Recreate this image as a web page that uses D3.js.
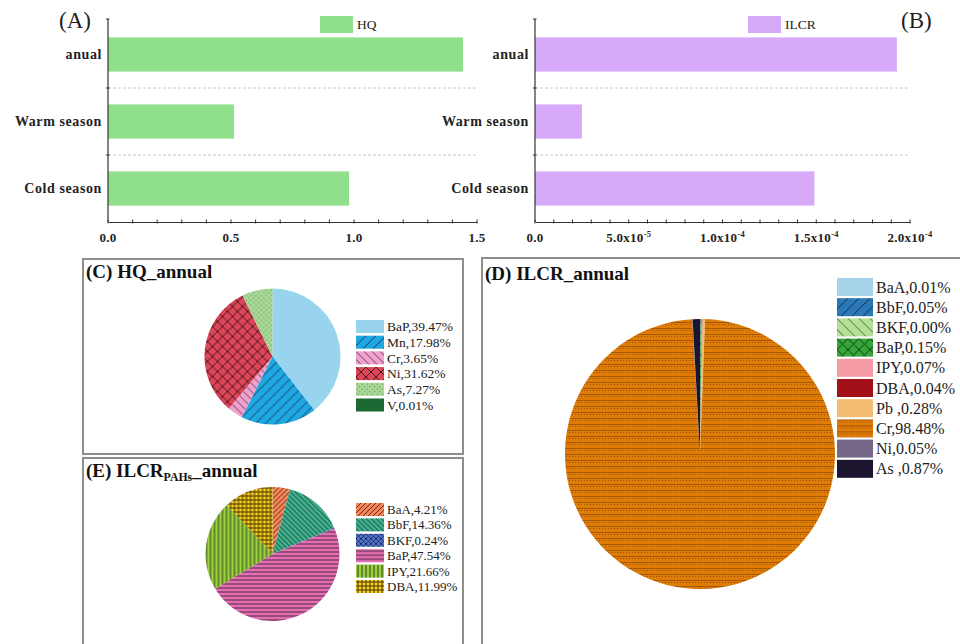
<!DOCTYPE html>
<html>
<head>
<meta charset="utf-8">
<script src="https://cdn.jsdelivr.net/npm/d3@7"></script>
<style>
  html, body { margin: 0; padding: 0; background: #fff; }
  svg { display: block; font-family: "Liberation Serif", "Times New Roman", serif; }
</style>
</head>
<body>
<svg id="chart" width="960" height="644"></svg>
<script>
// ---- data ----
const barCategories = ["anual", "Warm season", "Cold season"];
const hqValues = [1.443, 0.512, 0.98];
const ilcrValues = [1.93e-4, 2.5e-5, 1.49e-4];
const hqTicks = [0, 0.5, 1.0, 1.5];
const ilcrTicks = [0, 5e-5, 1e-4, 1.5e-4, 2e-4];

const hqNames = ["BaP", "Mn", "Cr", "Ni", "As", "V"];
const hqShares = [39.47, 17.98, 3.65, 31.62, 7.27, 0.01];

const pahNames = ["BaA", "BbF", "BKF", "BaP", "IPY", "DBA"];
const pahShares = [4.21, 14.36, 0.24, 47.54, 21.66, 11.99];

const ilcrNames = ["BaA", "BbF", "BKF", "BaP", "IPY", "DBA", "Pb ", "Cr", "Ni", "As "];
const ilcrShares = [0.01, 0.05, 0.00, 0.15, 0.07, 0.04, 0.28, 98.48, 0.05, 0.87];

// ---- fills ----
const svg = d3.select("#chart");
const defs = svg.append("defs");

function pattern(id, base, type, ink, size, width) {
  const s = size || 6, w = width || 1;
  const p = defs.append("pattern").attr("id", id)
    .attr("patternUnits", "userSpaceOnUse").attr("width", s).attr("height", s);
  p.append("rect").attr("width", s).attr("height", s).attr("fill", base);
  const line = (x1, y1, x2, y2) => p.append("line")
    .attr("x1", x1).attr("y1", y1).attr("x2", x2).attr("y2", y2)
    .attr("stroke", ink).attr("stroke-width", w);
  if (type === "fwd") { line(0, s, s, 0); line(-1, 1, 1, -1); line(s - 1, s + 1, s + 1, s - 1); }
  if (type === "back") { line(0, 0, s, s); line(-1, s - 1, 1, s + 1); line(s - 1, -1, s + 1, 1); }
  if (type === "cross") { line(0, s, s, 0); line(0, 0, s, s); }
  if (type === "h") { line(0, s / 2, s, s / 2); }
  if (type === "v") { line(s / 2, 0, s / 2, s); }
  if (type === "grid") { line(0, s / 2, s, s / 2); line(s / 2, 0, s / 2, s); }
  if (type === "dots") {
    p.append("circle").attr("cx", s / 4).attr("cy", s / 4).attr("r", w).attr("fill", ink);
    p.append("circle").attr("cx", 3 * s / 4).attr("cy", 3 * s / 4).attr("r", w).attr("fill", ink);
  }
  if (type === "brick") {
    p.append("rect").attr("x", 0).attr("y", 0).attr("width", s).attr("height", 1).attr("fill", ink).attr("opacity", 0.5);
    p.append("rect").attr("x", 1).attr("y", 2).attr("width", 1).attr("height", 1).attr("fill", ink).attr("opacity", 0.6);
    p.append("rect").attr("x", 4).attr("y", 2).attr("width", 1).attr("height", 1).attr("fill", ink).attr("opacity", 0.6);
  }
  return `url(#${id})`;
}

const hqFills = [
  "#98d4ee",
  pattern("c-mn", "#1ea7e0", "fwd", "#173a5c", 10, 1),
  pattern("c-cr", "#eda3cd", "back", "#7a3262", 8, 1),
  pattern("c-ni", "#dc4658", "cross", "#4a1418", 10, 1),
  pattern("c-as", "#abd99a", "dots", "#5f9a4e", 5, 0.7),
  pattern("c-v", "#1e6c35", "dots", "#0e4a20", 4, 0.6)
];
const pahFills = [
  pattern("e-baa", "#f4865c", "fwd", "#6e2a10", 5, 1),
  pattern("e-bbf", "#3eae8d", "back", "#1d4a3c", 5, 1),
  pattern("e-bkf", "#5577cf", "cross", "#1a2a60", 5, 1),
  pattern("e-bap", "#e56db4", "h", "#4a2a3c", 4, 1),
  pattern("e-ipy", "#9bd043", "v", "#2e3f12", 4, 1),
  pattern("e-dba", "#f6d225", "grid", "#4a3000", 4, 1)
];
const ilcrFills = [
  "#a7d4ea",
  pattern("d-bbf", "#2a78b6", "fwd", "#0e2e50", 11, 1),
  pattern("d-bkf", "#b4e097", "back", "#4a6e38", 11, 1),
  pattern("d-bap", "#35a63a", "cross", "#0e3e14", 11, 1),
  pattern("d-ipy", "#f8a1a9", "dots", "#e27784", 4, 0.6),
  "#a2111a",
  pattern("d-pb", "#f8c276", "dots", "#d2964a", 4, 0.6),
  pattern("d-cr", "#de7c07", "brick", "#6a3500", 6, 1),
  pattern("d-ni", "#6e6182", "dots", "#a898bb", 4, 0.6),
  "#1d1530"
];

// ---- bar panels ----
const yBand = d3.scaleBand().domain(barCategories).range([21, 222])
  .paddingInner(0.49).paddingOuter(0.245);

function barPanel(opt) {
  const g = svg.append("g");
  const x = d3.scaleLinear().domain([0, opt.max]).range([opt.x0, opt.x1]);
  const axisY = 222;

  // band separators
  const step = yBand.step();
  const bounds = barCategories.slice(1).map(c => yBand(c) - yBand.paddingInner() * step / 2);
  g.selectAll("line.sep").data(bounds).join("line")
    .attr("x1", opt.x0).attr("x2", opt.x1).attr("y1", d => d).attr("y2", d => d)
    .attr("stroke", "#c8c8c8").attr("stroke-width", 1).attr("stroke-dasharray", "3,2");

  // bars
  g.selectAll("rect.bar").data(opt.values).join("rect")
    .attr("x", x(0)).attr("y", (d, i) => yBand(barCategories[i]))
    .attr("width", d => x(d) - x(0)).attr("height", yBand.bandwidth())
    .attr("fill", opt.color);

  // x axis
  const minor = d3.range(0, opt.max + opt.minor / 2, opt.minor);
  const ax = g.append("g").attr("transform", `translate(0,${axisY})`)
    .call(d3.axisBottom(x).tickValues(minor).tickSize(0).tickFormat(""));
  ax.select(".domain").attr("stroke", "#333").attr("stroke-width", 1.2);
  g.selectAll("line.minor").data(minor).join("line")
    .attr("x1", d => x(d)).attr("x2", d => x(d)).attr("y1", axisY - 2.5).attr("y2", axisY + 1.5)
    .attr("stroke", "#333").attr("stroke-width", 1);

  const lab = g.selectAll("text.tick").data(opt.ticks).join("text")
    .attr("x", d => x(d)).attr("y", axisY + 20)
    .attr("text-anchor", "middle").attr("font-size", 13).attr("font-weight", "bold")
    .attr("letter-spacing", 0.3).attr("fill", "#222");
  lab.each(function (d) {
    const t = d3.select(this);
    const f = opt.fmt(d);
    t.append("tspan").text(f[0]);
    if (f[1]) t.append("tspan").attr("font-size", 8.5).attr("dy", -5).text(f[1]);
  });

  // y axis
  g.append("line").attr("x1", opt.x0).attr("x2", opt.x0).attr("y1", 19).attr("y2", axisY)
    .attr("stroke", "#333").attr("stroke-width", 1.2);
  g.selectAll("line.ytick").data([19].concat(bounds)).join("line")
    .attr("x1", opt.x0 - 2).attr("x2", opt.x0 + 1.5).attr("y1", d => d).attr("y2", d => d)
    .attr("stroke", "#333");
  g.selectAll("text.cat").data(barCategories).join("text")
    .attr("x", opt.x0 - 6).attr("y", d => yBand(d) + yBand.bandwidth() / 2 + 4.5)
    .attr("text-anchor", "end").attr("font-size", 14).attr("font-weight", "bold")
    .attr("letter-spacing", 0.6).attr("fill", "#222")
    .text(d => d);

  // legend
  g.append("rect").attr("x", opt.legX).attr("y", 16).attr("width", 33).attr("height", 17).attr("fill", opt.color);
  g.append("text").attr("x", opt.legX + 37).attr("y", 29).attr("font-size", 13.5).attr("fill", "#222").text(opt.name);

  // panel letter
  g.append("text").attr("x", opt.letterX).attr("y", 28).attr("font-size", 23).attr("fill", "#222").text(opt.letter);
}

barPanel({
  values: hqValues, max: 1.5, minor: 0.1, ticks: hqTicks, x0: 108, x1: 477,
  color: "#8fdf8b", name: "HQ", legX: 320, letter: "(A)", letterX: 59,
  fmt: d => [d3.format(".1f")(d)]
});
barPanel({
  values: ilcrValues, max: 2e-4, minor: 1e-5, ticks: ilcrTicks, x0: 535, x1: 910,
  color: "#d7aaf9", name: "ILCR", legX: 748, letter: "(B)", letterX: 901,
  fmt: d => {
    if (d === 0) return ["0.0"];
    const e = Math.floor(Math.log10(d) + 1e-9);
    const m = d / Math.pow(10, e);
    return [m.toFixed(1) + "x10", String(e)];
  }
});

// ---- pie panels ----
const pie = d3.pie().sort(null).value(d => d);

function piePanel(opt) {
  const g = svg.append("g");
  g.append("rect").attr("x", opt.box[0]).attr("y", opt.box[1]).attr("width", opt.box[2]).attr("height", opt.box[3])
    .attr("fill", "none").attr("stroke", "#8e8e8e").attr("stroke-width", 2);

  const title = g.append("text").attr("x", opt.box[0] + 3).attr("y", opt.titleY)
    .attr("font-size", opt.titleSize).attr("font-weight", "bold").attr("fill", "#111");
  opt.title.forEach(part => {
    const ts = title.append("tspan").text(part.t);
    if (part.sub) ts.attr("font-size", opt.titleSize * 0.62).attr("dy", 4);
    if (part.after) ts.attr("dy", -4);
  });

  const arc = d3.arc().innerRadius(0).outerRadius(opt.r);
  g.append("g").attr("transform", `translate(${opt.cx},${opt.cy})`)
    .selectAll("path").data(pie(opt.values)).join("path")
    .attr("d", arc).attr("fill", (d, i) => opt.fills[i])
    .attr("stroke", "none");

  const leg = g.selectAll("g.leg").data(opt.names).join("g")
    .attr("transform", (d, i) => `translate(${opt.legX},${opt.legY + i * opt.legStep})`);
  leg.append("rect").attr("width", opt.sw[0]).attr("height", opt.sw[1])
    .attr("fill", (d, i) => opt.fills[i]);
  leg.append("text").attr("x", opt.sw[0] + 3).attr("y", opt.sw[1] / 2 + opt.legFont * 0.35)
    .attr("font-size", opt.legFont).attr("fill", "#222")
    .text((d, i) => `${d},${opt.values[i].toFixed(2)}%`);
}

piePanel({
  box: [83, 259, 380, 195], titleY: 278, titleSize: 19,
  title: [{ t: "(C) HQ_annual" }],
  cx: 272.5, cy: 356.5, r: 68, values: hqShares, names: hqNames, fills: hqFills,
  legX: 356, legY: 320, legStep: 15.7, sw: [28, 13], legFont: 13.5
});
piePanel({
  box: [83, 458, 380, 200], titleY: 477, titleSize: 19,
  title: [{ t: "(E) ILCR" }, { t: "PAHs", sub: true }, { t: "_annual", after: true }],
  cx: 272.5, cy: 554, r: 67, values: pahShares, names: pahNames, fills: pahFills,
  legX: 356, legY: 503, legStep: 15.4, sw: [28, 13], legFont: 13
});
piePanel({
  box: [482, 258, 490, 400], titleY: 280, titleSize: 19,
  title: [{ t: "(D) ILCR_annual" }],
  cx: 700, cy: 454, r: 135, values: ilcrShares, names: ilcrNames, fills: ilcrFills,
  legX: 837, legY: 278, legStep: 20.2, sw: [36, 18], legFont: 16
});
</script>
</body>
</html>
